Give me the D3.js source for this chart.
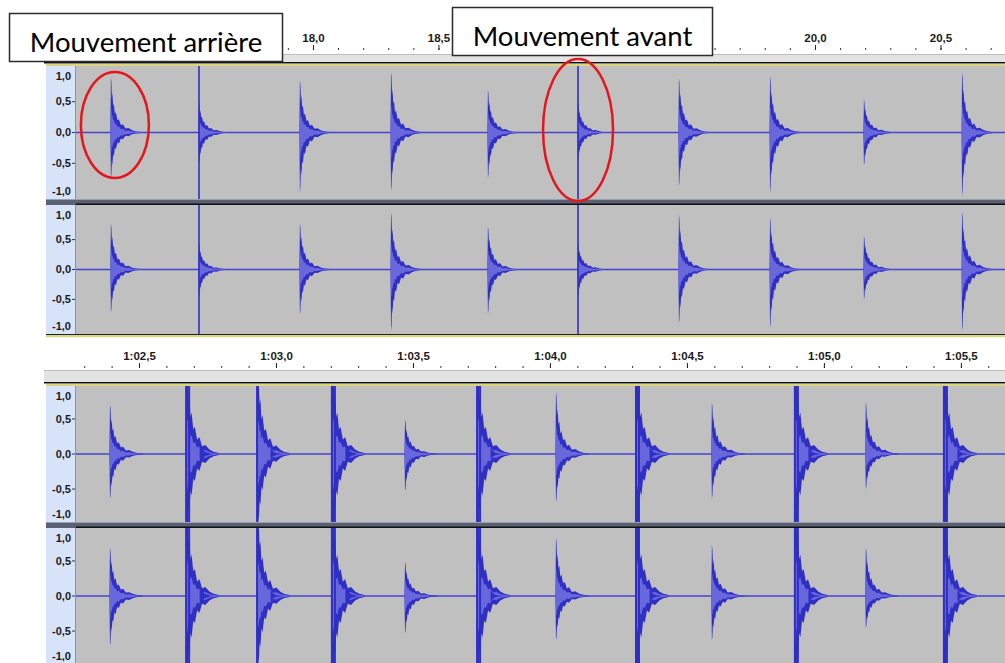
<!DOCTYPE html>
<html>
<head>
<meta charset="utf-8">
<script src="https://cdn.jsdelivr.net/npm/d3@7"></script>
<style>
  body { margin: 0; background: #fff; }
  svg { display: block; }
</style>
</head>
<body>
<svg id="chart"></svg>
<script>
// ---- data ----
const ampTicks = [1, 0.5, 0, -0.5, -1];

// upper panel (seconds); 19,0 and 19,5 sit under the "Mouvement avant" box
const topMajorTicks = [17.5, 18.0, 18.5, 19.0, 19.5, 20.0, 20.5];
const topTickLabels = [18.0, 18.5, 20.0, 20.5];
const topSpikeTimes = [17.195, 17.546, 17.948, 18.311, 18.697, 19.056, 19.458, 19.821, 20.195, 20.586];
const topCh1Up   = [0.90, 0.50, 0.85, 0.98, 0.69, 0.50, 0.88, 0.92, 0.54, 0.98];
const topCh1Down = [-0.74, -0.50, -0.97, -0.95, -0.74, -0.45, -0.87, -0.97, -0.53, -1.03];
const topCh2Up   = [0.77, 0.43, 0.77, 0.95, 0.72, 0.45, 0.92, 0.87, 0.56, 0.97];
const topCh2Down = [-0.72, -0.45, -0.75, -1.03, -0.74, -0.45, -0.90, -0.98, -0.50, -1.03];
const topClipped = [false, true, false, false, false, true, false, false, false, false];

// lower panel (seconds, shown as m:ss,s)
const bottomMajorTicks = [62.5, 63.0, 63.5, 64.0, 64.5, 65.0, 65.5];
const bottomTickLabels = [62.5, 63.0, 63.5, 64.0, 64.5, 65.0, 65.5];
const bottomSpikeTimes = [62.394, 62.672, 62.931, 63.204, 63.471, 63.734, 64.022, 64.314, 64.591, 64.894, 65.153, 65.438];
const bottomCh1Up   = [0.70, 1.6, 1.5, 1.6, 0.49, 1.6, 0.89, 1.6, 0.74, 1.6, 0.74, 1.6];
const bottomCh1Down = [-0.64, -1.6, -1.4, -1.6, -0.53, -1.6, -0.69, -1.6, -0.64, -1.6, -0.50, -1.6];
const bottomCh2Up   = [0.69, 1.6, 1.5, 1.6, 0.49, 1.6, 0.83, 1.6, 0.73, 1.6, 0.69, 1.6];
const bottomCh2Down = [-0.71, -1.6, -1.4, -1.6, -0.53, -1.6, -0.63, -1.6, -0.63, -1.6, -0.46, -1.6];
const bottomEcho    = [0, 0.25, 0.12, 0.25, 0, 0.12, 0, 0.15, 0, 0.15, 0, 0.12];
const bottomClipped = [false, true, true, true, false, true, false, true, false, true, false, true];
const bottomDouble  = [false, true, false, true, false, true, false, true, false, true, false, true];

// decay envelope of one knock (offset in s, fraction of peak)
const decayOffsets = [-0.002, 0, 0.002, 0.004, 0.006, 0.009, 0.012, 0.016, 0.020, 0.026, 0.032, 0.040, 0.048, 0.058, 0.070, 0.085, 0.100, 0.120];
const decayLevels  = [0, 1.0, 0.92, 0.62, 0.72, 0.48, 0.52, 0.33, 0.37, 0.22, 0.24, 0.13, 0.15, 0.07, 0.08, 0.04, 0.02, 0.01];

// ---- drawing ----
const W = 1005, H = 663;
const svg = d3.select("#chart").attr("width", W).attr("height", H);

const WAVE = "#2f2fc6", RMS = "#6868dc", TRACK = "#c0c0c0";

function fmtTop(d) { return d.toFixed(1).replace(".", ","); }
function fmtBottom(d) {
    const m = Math.floor(d / 60), s = d - m * 60;
    return m + ":" + (s < 10 ? "0" : "") + s.toFixed(1).replace(".", ",");
}

function drawRuler(x, cfg) {
    const g = svg.append("g");
    g.append("rect").attr("x", cfg.left).attr("y", cfg.stripTop)
        .attr("width", W - cfg.left).attr("height", cfg.stripBottom - cfg.stripTop)
        .attr("fill", "#e3e3e3");
    g.append("line").attr("x1", cfg.left).attr("x2", W)
        .attr("y1", cfg.stripTop + 0.5).attr("y2", cfg.stripTop + 0.5)
        .attr("stroke", "#bcbcbc");
    g.append("rect").attr("x", cfg.left).attr("y", cfg.stripBottom)
        .attr("width", W - cfg.left).attr("height", 1.5).attr("fill", "#111");
    g.append("rect").attr("x", cfg.left + 2).attr("y", cfg.stripBottom + 2)
        .attr("width", W - cfg.left - 2).attr("height", 2).attr("fill", "#dcd67a");

    const d = x.domain();
    const minor = d3.range(Math.ceil(d[0] * 10), Math.floor(d[1] * 10) + 1).map(v => v / 10);

    const minorAxis = g.append("g").attr("transform", `translate(0,${cfg.tickY})`)
        .call(d3.axisTop(x).tickValues(minor).tickSize(2).tickFormat(""));
    minorAxis.select(".domain").remove();
    minorAxis.selectAll("line").attr("stroke", "#333");

    const majorAxis = g.append("g").attr("transform", `translate(0,${cfg.tickY})`)
        .call(d3.axisTop(x).tickValues(cfg.ticks).tickSize(5).tickFormat(""));
    majorAxis.select(".domain").remove();
    majorAxis.selectAll("line").attr("stroke", "#222");

    const labelAxis = g.append("g").attr("transform", `translate(0,${cfg.tickY})`)
        .call(d3.axisTop(x).tickValues(cfg.labels).tickSize(5).tickPadding(3).tickFormat(cfg.fmt));
    labelAxis.select(".domain").remove();
    labelAxis.selectAll("line").remove();
    labelAxis.selectAll("text")
        .attr("font-family", "Liberation Sans, Arial, sans-serif")
        .attr("font-weight", "bold").attr("font-size", 11.5).attr("fill", "#1a1a1a");
}

function drawChannel(x, ch, yMax, spikes) {
    const y = d3.scaleLinear().domain([-yMax, yMax]).range([ch.bottom, ch.top]);
    const g = svg.append("g");
    const clipId = "clip" + ch.top;
    svg.append("clipPath").attr("id", clipId).append("rect")
        .attr("x", 76).attr("y", ch.top).attr("width", W - 76).attr("height", ch.bottom - ch.top);

    // vertical amplitude ruler
    g.append("rect").attr("x", 46).attr("y", ch.top).attr("width", 30)
        .attr("height", ch.bottom - ch.top).attr("fill", "#d6e3f8");
    g.append("line").attr("x1", 75.5).attr("x2", 75.5).attr("y1", ch.top).attr("y2", ch.bottom)
        .attr("stroke", "#8a94a4");
    g.append("rect").attr("x", 76).attr("y", ch.top).attr("width", W - 76)
        .attr("height", ch.bottom - ch.top).attr("fill", TRACK);

    const ax = g.append("g").attr("transform", "translate(75,0)")
        .call(d3.axisLeft(y).tickValues(ampTicks).tickSize(3).tickPadding(1)
            .tickFormat(v => (v < 0 ? "-" : "") + Math.abs(v).toFixed(1).replace(".", ",")));
    ax.select(".domain").remove();
    ax.selectAll("line").attr("stroke", "#333")
        .attr("opacity", v => Math.abs(v) === 1 ? 0 : 1);
    // end labels are kept inside the track, as Audacity does
    ax.selectAll(".tick").attr("transform", v =>
        `translate(0,${v === 1 ? ch.top + 10 : v === -1 ? ch.bottom - 8 : y(v)})`);
    ax.selectAll("text")
        .attr("font-family", "Liberation Sans, Arial, sans-serif")
        .attr("font-weight", "bold").attr("font-size", 11).attr("fill", "#1a1a1a")
        .attr("dy", "0.34em");

    const w = g.append("g").attr("clip-path", `url(#${clipId})`);
    w.append("line").attr("x1", 76).attr("x2", W).attr("y1", y(0)).attr("y2", y(0))
        .attr("stroke", "#4444d0").attr("stroke-width", 1.3);

    const area = d3.area().x(p => x(p.t)).y0(p => y(p.lo)).y1(p => y(p.hi));
    spikes.forEach(s => {
        const pts = decayOffsets.map((o, i) => ({ t: s.t + o, hi: s.up * decayLevels[i], lo: s.down * decayLevels[i] }));
        const inner = pts.map(p => ({ t: p.t, hi: p.hi * 0.45, lo: p.lo * 0.45 }));
        w.append("path").attr("d", area(pts)).attr("fill", WAVE);
        w.append("path").attr("d", area(inner)).attr("fill", RMS);
        if (s.echo) {
            const e = decayOffsets.map((o, i) => ({ t: s.t + 0.05 + o * 0.4, hi: s.echo * decayLevels[i], lo: -s.echo * decayLevels[i] }));
            w.append("path").attr("d", area(e)).attr("fill", WAVE);
        }
        if (s.clip) {
            (s.double ? [0, 0.011] : [0]).forEach(o => {
                w.append("line").attr("x1", x(s.t + o)).attr("x2", x(s.t + o))
                    .attr("y1", ch.top).attr("y2", ch.bottom)
                    .attr("stroke", WAVE).attr("stroke-width", s.thick ? 2 : 1.6);
            });
        }
    });
}

function drawSeparator(yTop, yBottom) {
    svg.append("rect").attr("x", 46).attr("y", yTop).attr("width", W - 46)
        .attr("height", yBottom - yTop).attr("fill", "#5a6174");
    svg.append("rect").attr("x", 46).attr("y", yTop).attr("width", W - 46)
        .attr("height", 1).attr("fill", "#9aa0aa");
    svg.append("rect").attr("x", 76).attr("y", yBottom - 1.5).attr("width", W - 76)
        .attr("height", 1.5).attr("fill", "#111");
}

function bottomBorder(yb) {
    svg.append("rect").attr("x", 46).attr("y", yb).attr("width", W - 46).attr("height", 1.2).attr("fill", "#222");
    svg.append("rect").attr("x", 46).attr("y", yb + 1.2).attr("width", W - 46).attr("height", 2).attr("fill", "#dcd67a");
}

// ---- upper panel ----
const xTop = d3.scaleLinear().domain([17.056, 20.757]).range([76, W]);
drawRuler(xTop, { left: 44, stripTop: 54, stripBottom: 62, tickY: 50, ticks: topMajorTicks, labels: topTickLabels, fmt: fmtTop });
const topSpikes1 = topSpikeTimes.map((t, i) => ({ t, up: topCh1Up[i], down: topCh1Down[i], clip: topClipped[i] }));
const topSpikes2 = topSpikeTimes.map((t, i) => ({ t, up: topCh2Up[i], down: topCh2Down[i], clip: topClipped[i] }));
drawChannel(xTop, { top: 66, bottom: 199 }, 1.08, topSpikes1);
drawSeparator(199, 205);
drawChannel(xTop, { top: 205, bottom: 334 }, 1.08, topSpikes2);
bottomBorder(334);

// ---- lower panel ----
const xBottom = d3.scaleLinear().domain([62.270, 65.661]).range([76, W]);
drawRuler(xBottom, { left: 44, stripTop: 370, stripBottom: 382, tickY: 368, ticks: bottomMajorTicks, labels: bottomTickLabels, fmt: fmtBottom });
const botSpikes1 = bottomSpikeTimes.map((t, i) => ({ t, up: bottomCh1Up[i], down: bottomCh1Down[i], clip: bottomClipped[i], double: bottomDouble[i], thick: true, echo: bottomEcho[i] }));
const botSpikes2 = bottomSpikeTimes.map((t, i) => ({ t, up: bottomCh2Up[i], down: bottomCh2Down[i], clip: bottomClipped[i], double: bottomDouble[i], thick: true, echo: bottomEcho[i] }));
drawChannel(xBottom, { top: 386, bottom: 522 }, 0.97, botSpikes1);
drawSeparator(522, 528);
drawChannel(xBottom, { top: 528, bottom: 664 }, 0.97, botSpikes2);

// ---- annotations ----
function label(x0, y0, w, h, text, ty) {
    svg.append("rect").attr("x", x0).attr("y", y0).attr("width", w).attr("height", h)
        .attr("fill", "#fff").attr("stroke", "#2b2b2b").attr("stroke-width", 1.5);
    svg.append("text").attr("x", x0 + w / 2).attr("y", ty).attr("text-anchor", "middle")
        .attr("font-family", "Lato, Open Sans, sans-serif").attr("font-size", 27.5)
        .attr("fill", "#000").text(text);
}
label(9.5, 13.5, 273, 48, "Mouvement arrière", 52);
label(452.5, 7.5, 260, 48, "Mouvement avant", 46);

svg.append("ellipse").attr("cx", xTop(topSpikeTimes[0]) + 4).attr("cy", 125)
    .attr("rx", 34).attr("ry", 53)
    .attr("fill", "none").attr("stroke", "#e8141c").attr("stroke-width", 2.5);
svg.append("ellipse").attr("cx", xTop(topSpikeTimes[5])).attr("cy", 130)
    .attr("rx", 35).attr("ry", 71)
    .attr("fill", "none").attr("stroke", "#e8141c").attr("stroke-width", 2.5);
</script>
</body>
</html>
